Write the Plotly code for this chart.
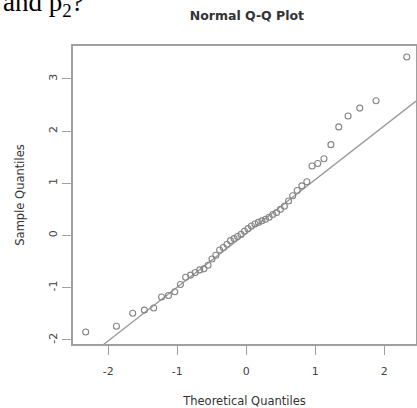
import plotly.graph_objects as go
import numpy as np

# Theoretical quantiles (x) and sorted sample values (y)
theoretical = [-2.326, -1.881, -1.645, -1.476, -1.341, -1.227, -1.126, -1.036, -0.954, -0.878,
               -0.806, -0.739, -0.674, -0.613, -0.553, -0.496, -0.440, -0.385, -0.332, -0.279,
               -0.228, -0.176, -0.126, -0.075, -0.025, 0.025, 0.075, 0.126, 0.176, 0.228,
               0.279, 0.332, 0.385, 0.440, 0.496, 0.553, 0.613, 0.674, 0.739, 0.806,
               0.878, 0.954, 1.036, 1.126, 1.227, 1.341, 1.476, 1.645, 1.881, 2.326]
sample = [-1.85, -1.74, -1.49, -1.43, -1.39, -1.18, -1.15, -1.08, -0.94, -0.80,
          -0.76, -0.71, -0.66, -0.64, -0.57, -0.45, -0.38, -0.28, -0.23, -0.17,
          -0.10, -0.06, -0.02, 0.02, 0.08, 0.13, 0.18, 0.22, 0.25, 0.28,
          0.31, 0.35, 0.40, 0.44, 0.50, 0.56, 0.66, 0.76, 0.86, 0.95,
          1.03, 1.33, 1.38, 1.47, 1.74, 2.08, 2.29, 2.44, 2.58, 3.42]

x_ticks = [-2, -1, 0, 1, 2]
y_ticks = [-2, -1, 0, 1, 2, 3]
x_range = [-2.51, 2.46]
y_range = [-2.08, 3.63]

# qqline: through first and third quartiles
q1, q3 = np.percentile(sample, [25, 75])
tq1, tq3 = -0.6745, 0.6745
slope = (q3 - q1) / (tq3 - tq1)
intercept = q1 - slope * tq1
line_x = np.array(x_range)
line_y = intercept + slope * line_x

SANS = "DejaVu Sans"
fig = go.Figure()
fig.add_trace(go.Scatter(x=line_x, y=line_y, mode="lines",
                         line=dict(color="#9a9a9a", width=1.3), hoverinfo="skip"))
fig.add_trace(go.Scatter(x=theoretical, y=sample, mode="markers", cliponaxis=False,
                         marker=dict(symbol="circle-open", size=6, color="#858585",
                                     line=dict(width=1.1))))

axis_common = dict(showgrid=False, zeroline=False, showline=True, mirror=True,
                   automargin=False,
                   linecolor="#a0a0a0", linewidth=1.5, ticks="outside", ticklen=9,
                   tickcolor="#a0a0a0", tickwidth=1.3,
                   tickfont=dict(family=SANS, size=11, color="#444"))
fig.update_xaxes(range=x_range, tickvals=x_ticks, ticktext=[str(v) for v in x_ticks],
                 ticklabelstandoff=7,
                 title=dict(text="Theoretical Quantiles", standoff=20,
                            font=dict(family=SANS, size=11.5, color="#333")),
                 **axis_common)
fig.update_yaxes(range=y_range, tickvals=y_ticks, ticktext=[str(v) for v in y_ticks],
                 tickangle=-90, ticklabelstandoff=1,
                 title=dict(text="Sample Quantiles", standoff=20,
                            font=dict(family=SANS, size=11.5, color="#333")),
                 **axis_common)

fig.update_layout(
    width=417, height=408,
    margin=dict(l=73, r=1, t=46, b=64),
    paper_bgcolor="white", plot_bgcolor="white",
    showlegend=False,
    title=dict(text="<b>Normal Q-Q Plot</b>", x=0.507, xref="paper", xanchor="center",
               y=0.962, yref="container", yanchor="middle",
               font=dict(family=SANS, size=12.5, color="#333")),
)
fig.add_annotation(text="and p<sub>2</sub>?", xref="paper", yref="paper",
                   x=-0.21, y=1.078, xanchor="left", yanchor="bottom", showarrow=False,
                   font=dict(family="Liberation Serif", size=27, color="black"))

fig.write_html("out.html", config={"displayModeBar": False},
               post_script="document.body.style.margin='0';document.body.style.padding='0';")
